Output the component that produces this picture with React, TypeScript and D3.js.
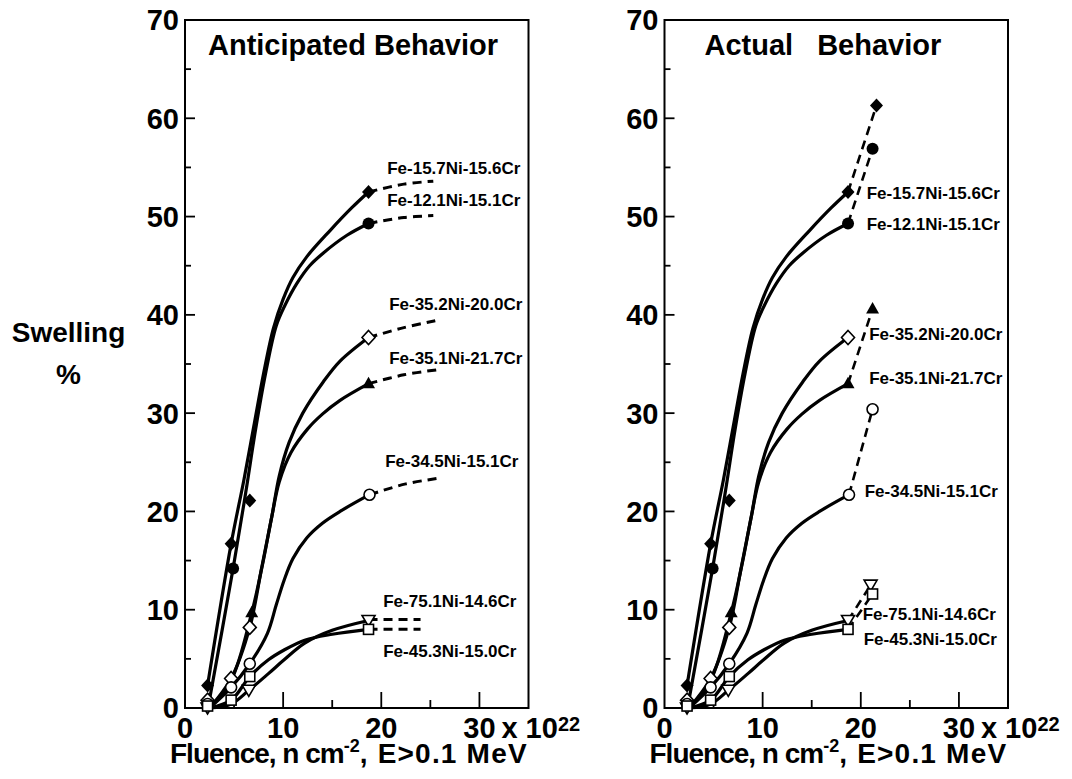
import React from "react";
import * as d3 from "d3";

type Pt = [number, number];

// Alloy compositions (series names)
const alloys = [
  "Fe-15.7Ni-15.6Cr",
  "Fe-12.1Ni-15.1Cr",
  "Fe-35.2Ni-20.0Cr",
  "Fe-35.1Ni-21.7Cr",
  "Fe-34.5Ni-15.1Cr",
  "Fe-75.1Ni-14.6Cr",
  "Fe-45.3Ni-15.0Cr",
];
const symbols = ["diamondFilled", "circleFilled", "diamondOpen", "triangleFilled", "circleOpen", "triangleDownOpen", "squareOpen"];

// Measured swelling (%) vs fluence (1e22 n/cm2), shared by both panels
const meas157: Pt[] = [[2.3, 2.3], [4.7, 16.7], [6.6, 21.1], [18.7, 52.5]];
const meas121: Pt[] = [[4.9, 14.2], [18.7, 49.3]];
const meas352: Pt[] = [[2.3, 0.8], [4.7, 3.0], [6.6, 8.2], [18.7, 37.7]];
const meas351: Pt[] = [[6.8, 9.7], [18.7, 33.0]];
const meas345: Pt[] = [[2.3, 0.4], [4.7, 2.1], [6.6, 4.5], [18.8, 21.7]];
const meas751: Pt[] = [[2.3, 0.0], [6.5, 1.8], [18.7, 8.9]];
const meas453: Pt[] = [[2.3, 0.2], [4.7, 0.8], [6.6, 3.2], [18.7, 8.0]];

// Hand-drawn trend curves through the data
const trend157: Pt[] = [[2.3, 2.3], [4.7, 16.7], [6.0, 23.2], [7.0, 28.6], [8.0, 34.0], [9.0, 38.6], [10.0, 41.6], [11.0, 43.8], [12.4, 45.9], [14.8, 48.6], [17.0, 50.9], [18.7, 52.5]];
const trend121: Pt[] = [[2.4, 0.3], [4.9, 14.2], [6.2, 22.0], [7.2, 28.4], [8.2, 34.0], [9.3, 38.9], [10.2, 41.0], [11.4, 43.2], [12.7, 45.0], [14.1, 46.3], [16.5, 48.1], [18.7, 49.3]];
const trend352: Pt[] = [[2.5, 0.0], [4.7, 3.0], [6.6, 8.2], [7.8, 14.2], [8.85, 19.5], [9.6, 23.6], [10.6, 27.0], [12.0, 30.0], [14.1, 33.2], [15.8, 35.3], [18.7, 37.7]];
const trend351: Pt[] = [[2.5, 0.0], [4.7, 2.8], [6.8, 9.7], [7.9, 14.6], [8.85, 19.5], [9.6, 23.0], [10.8, 26.0], [12.5, 28.4], [14.0, 29.9], [15.8, 31.3], [18.7, 33.0]];
const trend345: Pt[] = [[2.5, 0.0], [4.7, 2.1], [6.6, 4.5], [8.4, 7.6], [9.3, 10.5], [10.1, 13.0], [11.0, 15.2], [12.4, 17.3], [14.0, 18.8], [15.8, 20.0], [18.8, 21.7]];
const trend751: Pt[] = [[2.5, 0.0], [4.7, 0.4], [6.5, 1.8], [8.5, 3.5], [10.1, 4.9], [12.2, 6.6], [15.0, 7.9], [18.7, 8.9]];
const trend453: Pt[] = [[2.5, 0.0], [4.7, 0.8], [6.6, 3.2], [8.5, 4.9], [10.1, 5.9], [12.2, 6.9], [15.0, 7.5], [18.7, 8.0]];

// Anticipated saturation beyond the last measurement
const ant157: Pt[] = [[18.7, 52.5], [22.3, 53.3], [25.3, 53.6]];
const ant121: Pt[] = [[18.7, 49.3], [22.3, 49.9], [25.3, 50.1]];
const ant352: Pt[] = [[18.7, 37.7], [22.3, 38.7], [25.5, 39.4]];
const ant351: Pt[] = [[18.7, 33.0], [22.3, 33.9], [25.6, 34.4]];
const ant345: Pt[] = [[18.8, 21.7], [22.5, 22.8], [26.0, 23.4]];
const ant751: Pt[] = [[18.7, 9.0], [24.0, 9.0]];
const ant453: Pt[] = [[18.7, 8.0], [24.0, 8.0]];

// Actual high-fluence results (null = no further point)
const act157: Pt | null = [21.6, 61.3];
const act121: Pt | null = [21.2, 56.9];
const act352: Pt | null = null;
const act351: Pt | null = [21.2, 40.6];
const act345: Pt | null = [21.2, 30.4];
const act751: Pt | null = [21.0, 12.5];
const act453: Pt | null = [21.2, 11.6];

const measured = [meas157, meas121, meas352, meas351, meas345, meas751, meas453];
const trends = [trend157, trend121, trend352, trend351, trend345, trend751, trend453];
const anticipated = [ant157, ant121, ant352, ant351, ant345, ant751, ant453];
const actual = [act157, act121, act352, act351, act345, act751, act453];

const xTicksMajor = [0, 10, 20, 30];
const xTicksMinor = [5, 15, 25];
const yTicksMajor = [0, 10, 20, 30, 40, 50, 60, 70];
const yTicksMinor = [5, 15, 25, 35, 45, 55, 65];

// Label anchor points (data units) for each alloy in each panel
const labelPosLeft: Pt[] = [[20.6, 54.3], [20.6, 51.1], [20.8, 40.5], [20.8, 35.0], [20.4, 24.5], [20.2, 10.3], [20.2, 5.2]];
const labelPosRight: Pt[] = [[20.6, 51.8], [20.6, 48.6], [20.85, 37.4], [20.85, 33.0], [20.4, 21.5], [20.2, 8.95], [20.3, 6.4]];

const FONT = "'Liberation Sans', Arial, Helvetica, sans-serif";

function Marker({ kind, x, y }: { kind: string; x: number; y: number }) {
  const sw = 1.6;
  switch (kind) {
    case "diamondFilled":
      return <path d="M0,-7 L6.5,0 L0,7 L-6.5,0 Z" transform={`translate(${x},${y})`} fill="#000" />;
    case "diamondOpen":
      return <path d="M0,-7 L6.5,0 L0,7 L-6.5,0 Z" transform={`translate(${x},${y})`} fill="#fff" stroke="#000" strokeWidth={sw} />;
    case "circleFilled":
      return <circle cx={x} cy={y} r={6} fill="#000" />;
    case "circleOpen":
      return <circle cx={x} cy={y} r={5.5} fill="#fff" stroke="#000" strokeWidth={sw} />;
    case "triangleFilled":
      return <path d="M0,-7 L6.5,4.5 L-6.5,4.5 Z" transform={`translate(${x},${y})`} fill="#000" />;
    case "triangleDownOpen":
      return <path d="M0,6 L-6.5,-5 L6.5,-5 Z" transform={`translate(${x},${y})`} fill="#fff" stroke="#000" strokeWidth={sw} />;
    case "squareOpen":
      return <rect x={x - 5} y={y - 5} width={10} height={10} fill="#fff" stroke="#000" strokeWidth={sw} />;
    default:
      return null;
  }
}

function Panel({ left, mode }: { left: number; mode: "anticipated" | "actual" }) {
  const x = d3.scaleLinear().domain([0, 35]).range([left, left + 343.5]);
  const y = d3.scaleLinear().domain([0, 70]).range([708, 20]);
  const line = d3
    .line<Pt>()
    .x((d) => x(d[0]))
    .y((d) => y(d[1]))
    .curve(d3.curveCatmullRom.alpha(0.5));
  const straight = d3
    .line<Pt>()
    .x((d) => x(d[0]))
    .y((d) => y(d[1]));
  const labelPos = mode === "anticipated" ? labelPosLeft : labelPosRight;

  return (
    <g>
      {/* plot frame */}
      <rect x={x(0)} y={y(70)} width={x(35) - x(0)} height={y(0) - y(70)} fill="none" stroke="#000" strokeWidth={2} />
      {/* ticks */}
      {xTicksMajor.slice(1).map((t) => (
        <line key={"xM" + t} x1={x(t)} x2={x(t)} y1={y(0)} y2={y(0) - 16} stroke="#000" strokeWidth={1.8} />
      ))}
      {xTicksMinor.map((t) => (
        <line key={"xm" + t} x1={x(t)} x2={x(t)} y1={y(0)} y2={y(0) - 8} stroke="#000" strokeWidth={1.8} />
      ))}
      {yTicksMajor.slice(1, -1).map((t) => (
        <line key={"yM" + t} x1={x(0)} x2={x(0) + 10} y1={y(t)} y2={y(t)} stroke="#000" strokeWidth={1.8} />
      ))}
      {yTicksMinor.map((t) => (
        <line key={"ym" + t} x1={x(0)} x2={x(0) + 6} y1={y(t)} y2={y(t)} stroke="#000" strokeWidth={1.8} />
      ))}
      {/* tick labels */}
      {yTicksMajor.map((t) => (
        <text key={"yl" + t} x={x(0) - 6} y={y(t)} dy="0.36em" textAnchor="end" fontFamily={FONT} fontWeight="bold" fontSize={29}>
          {t}
        </text>
      ))}
      {xTicksMajor.map((t) => (
        <text key={"xl" + t} x={x(t)} y={738} textAnchor="middle" fontFamily={FONT} fontWeight="bold" fontSize={29}>
          {t}
        </text>
      ))}
      <text x={x(30) + 22} y={738} fontFamily={FONT} fontWeight="bold" fontSize={29}>
        x 10
        <tspan dy={-7} fontSize={20}>22</tspan>
      </text>
      {/* axis title */}
      <text x={x(0) - 15} y={763} fontFamily={FONT} fontWeight="bold" fontSize={28}>
        <tspan letterSpacing={-1}>Fluence, n cm</tspan>
        <tspan dy={-11} fontSize={18}>-2</tspan>
        <tspan dy={11} letterSpacing={1.2}>,  E&gt;0.1 MeV</tspan>
      </text>
      {/* panel title */}
      {mode === "anticipated" ? (
        <text x={x(0) + 23} y={55} fontFamily={FONT} fontWeight="bold" fontSize={29}>
          Anticipated Behavior
        </text>
      ) : (
        <text x={x(0) + 40} y={55} fontFamily={FONT} fontWeight="bold" fontSize={29}>
          <tspan>Actual</tspan>
          <tspan dx={24}>Behavior</tspan>
        </text>
      )}
      {/* trend curves */}
      {trends.map((c, i) => (
        <path key={"t" + i} d={line(c) || ""} fill="none" stroke="#000" strokeWidth={3.2} strokeLinecap="round" />
      ))}
      {/* continuation beyond last measurement */}
      {mode === "anticipated"
        ? anticipated.map((c, i) => (
            <path key={"a" + i} d={line(c) || ""} fill="none" stroke="#000" strokeWidth={3} strokeDasharray="9,6" />
          ))
        : actual.map((p, i) => {
            if (!p) return null;
            const last = measured[i][measured[i].length - 1];
            return <path key={"a" + i} d={straight([last, p]) || ""} fill="none" stroke="#000" strokeWidth={2.6} strokeDasharray="9,6" />;
          })}
      {/* data markers */}
      {measured.map((pts, i) =>
        pts.map((p, j) => <Marker key={`m${i}-${j}`} kind={symbols[i]} x={x(p[0])} y={y(p[1])} />)
      )}
      {mode === "actual" &&
        actual.map((p, i) => (p ? <Marker key={"ap" + i} kind={symbols[i]} x={x(p[0])} y={y(p[1])} /> : null))}
      {/* alloy labels */}
      {alloys.map((name, i) => (
        <text key={"lab" + i} x={x(labelPos[i][0])} y={y(labelPos[i][1])} fontFamily={FONT} fontWeight="bold" fontSize={17}>
          {name}
        </text>
      ))}
    </g>
  );
}

export default function App() {
  return (
    <svg
      width={1072}
      height={779}
      style={{ position: "absolute", left: 0, top: 0, background: "#fff" }}
    >
      <rect width={1072} height={779} fill="#fff" />
      <text x={68.5} y={342} textAnchor="middle" fontFamily={FONT} fontWeight="bold" fontSize={28}>
        Swelling
      </text>
      <text x={68.5} y={384} textAnchor="middle" fontFamily={FONT} fontWeight="bold" fontSize={28}>
        %
      </text>
      <Panel left={185} mode="anticipated" />
      <Panel left={664.5} mode="actual" />
    </svg>
  );
}
